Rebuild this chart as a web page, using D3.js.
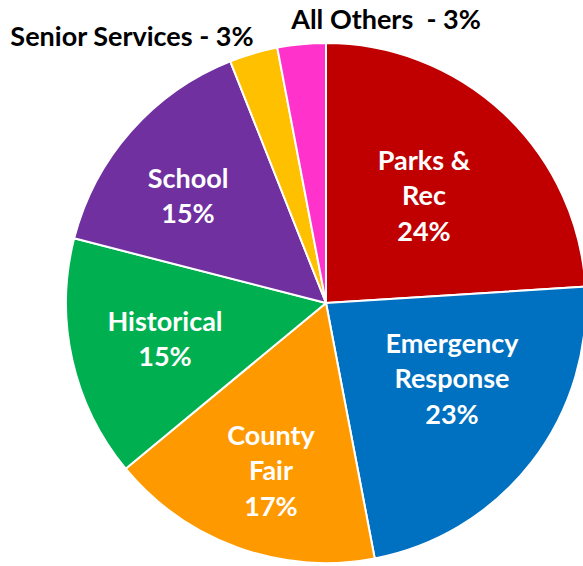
<!DOCTYPE html>
<html><head><meta charset="utf-8">
<script src="https://cdn.jsdelivr.net/npm/d3@7"></script>
<style>html,body{margin:0;padding:0;background:#fff;overflow:hidden}</style>
</head><body>
<svg id="c" width="583" height="566"></svg>
<script>
const categories = ["Parks & Rec","Emergency Response","County Fair","Historical","School","Senior Services","All Others"];
const values = [24, 23, 17, 15, 15, 3, 3];
const colors = ["#C00000","#0070C0","#FF9900","#00B050","#7030A0","#FFC000","#FF33CC"];
const labelLines = [["Parks &","Rec","24%"],["Emergency","Response","23%"],["County","Fair","17%"],["Historical","15%"],["School","15%"],["Senior Services - 3%"],["All Others  - 3%"]];
// label anchors (layout), relative to chart center
const labelPos = [[98,-107],[126,76],[-55,168],[-161,36],[-138,-107],[-194,-266],[60,-283]];
const insideLabel = [true,true,true,true,true,false,false];

const svg = d3.select("#c");
const cx = 326, cy = 303, R = 260;
const g = svg.append("g").attr("transform",`translate(${cx},${cy})`);
const pie = d3.pie().sort(null).value(d=>d)(values);
const arc = d3.arc().innerRadius(0).outerRadius(R);
g.selectAll("path").data(pie).join("path")
  .attr("d",arc).attr("fill",(d,i)=>colors[i])
  .attr("stroke","#fff").attr("stroke-width",2).attr("stroke-linejoin","round");

const lh = 35.5;
labelLines.forEach((lines,i)=>{
  const [x,y] = labelPos[i];
  const t = svg.append("text")
    .attr("font-family","Lato, 'Open Sans', sans-serif")
    .attr("font-weight","bold")
    .attr("font-size",27)
    .attr("text-anchor","middle")
    .attr("fill", insideLabel[i] ? "#fff" : "#000")
    .attr("xml:space","preserve")
    .style("white-space","pre");
  lines.forEach((s,k)=>{
    t.append("tspan").attr("x",cx+x)
      .attr("y",cy+y+(k-(lines.length-1)/2)*lh)
      .attr("dy","0.35em").text(s);
  });
});
</script>
</body></html>
